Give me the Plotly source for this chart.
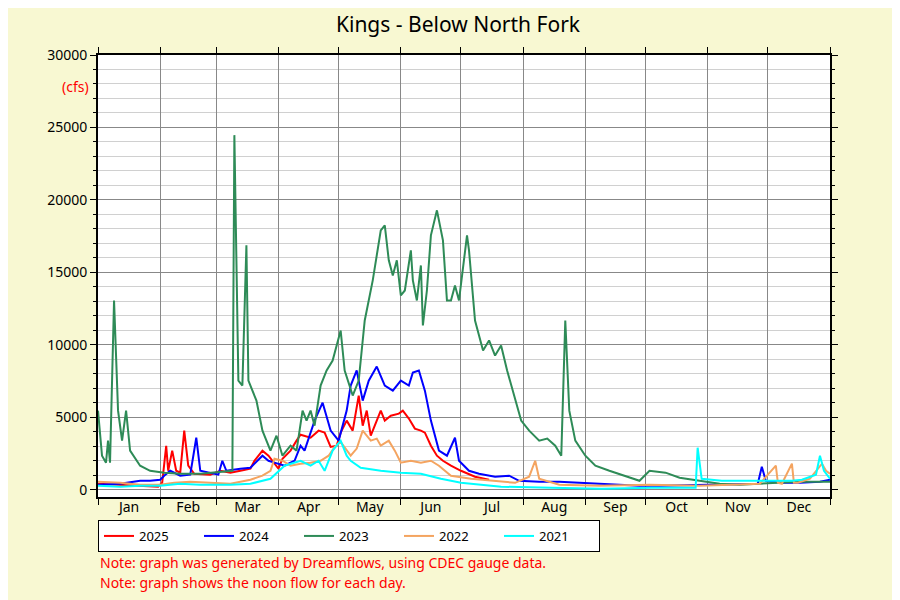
import plotly.graph_objects as go

# day of year / flow (cfs)
days_2025 = [0, 11, 21, 30, 32, 34, 35, 37, 39, 41, 43, 45, 48, 56, 61, 66, 71, 76, 78, 82, 85, 87, 90, 92, 96, 99,
             101, 106, 110, 113, 116, 119, 121, 124, 127, 130, 132, 134, 136, 138, 141, 143, 146, 150, 152, 155,
             158, 161, 163, 166, 169, 172, 176, 181, 188, 195]
flow_2025 = [410, 350, 280, 210, 480, 3030, 1310, 2700, 1310, 1180, 4080, 1660, 1100, 1040, 1310, 1180, 1310, 1450,
             2000, 2700, 2350, 2000, 1450, 2140, 2700, 3390, 3800, 3590, 4080, 3940, 2960, 3040, 3940, 4770, 4080,
             6500, 4420, 5460, 3730, 4420, 5460, 4770, 5110, 5250, 5460, 4910, 4220, 4080, 3940, 3040, 2350, 2000,
             1660, 1310, 900, 690]

days_2024 = [0, 11, 21, 26, 31, 33, 36, 41, 46, 49, 51, 56, 60, 62, 64, 71, 76, 82, 85, 88, 93, 98, 101, 103, 108,
             112, 114, 116, 120, 124, 126, 129, 132, 135, 139, 143, 147, 151, 155, 157, 160, 163, 166, 170, 174, 178,
             180, 185, 190, 198, 205, 210, 220, 230, 240, 250, 260, 270, 280, 300, 310, 320, 329, 331, 333, 340, 350,
             360, 365]
flow_2024 = [350, 410, 620, 620, 690, 970, 1310, 970, 1040, 3590, 1310, 1180, 1040, 2000, 1310, 1450, 1520, 2350,
             2000, 1870, 1660, 2000, 3040, 2700, 4770, 6010, 5110, 4080, 3390, 5460, 7190, 8230, 6150, 7530, 8500,
             7190, 6840, 7530, 7190, 8090, 8230, 6840, 4770, 2700, 2350, 3590, 2000, 1310, 1100, 900, 970, 620, 550,
             550, 480, 410, 350, 280, 280, 350, 350, 410, 410, 1590, 620, 480, 480, 550, 690]

days_2023 = [0, 2, 4, 5, 6, 8, 10, 12, 14, 16, 21, 26, 33, 41, 51, 58, 67, 68, 70, 72, 74, 75, 77, 79, 82, 86, 89,
             92, 96, 99, 102, 104, 106, 108, 111, 114, 117, 121, 123, 127, 130, 133, 137, 141, 143, 145, 147, 149,
             151, 153, 156, 157, 159, 161, 162, 164, 166, 169, 172, 174, 176, 178, 180, 182, 184, 185, 188, 192, 195,
             198, 201, 204, 208, 211, 215, 220, 224, 228, 231, 233, 235, 238, 243, 248, 255, 263, 270, 275, 283, 290,
             300, 310, 320, 330, 350, 365]
flow_2023 = [5460, 2350, 1870, 3390, 1870, 13060, 5460, 3390, 5460, 2700, 1660, 1310, 1180, 1100, 1100, 1180, 1310,
             24470, 7530, 7190, 16870, 7530, 6840, 6150, 4080, 2700, 3730, 2350, 3040, 2700, 5460, 4770, 5460, 4420,
             7190, 8230, 8920, 10990, 8230, 6500, 7530, 11680, 14450, 17900, 18250, 15830, 14790, 15830, 13410,
             13750, 16520, 14450, 13060, 15480, 11340, 13750, 17560, 19280, 17210, 13060, 13060, 14100, 13060, 15140,
             17560, 16520, 11680, 9610, 10300, 9260, 9950, 8230, 6150, 4770, 4080, 3390, 3530, 3040, 2350, 11680,
             5460, 3390, 2350, 1660, 1310, 970, 620, 1310, 1180, 830, 620, 410, 350, 410, 550, 550]

days_2022 = [0, 11, 21, 31, 38, 46, 56, 66, 76, 82, 86, 88, 92, 96, 101, 106, 111, 115, 118, 121, 126, 129, 132,
             136, 139, 141, 145, 148, 151, 156, 161, 166, 170, 176, 186, 196, 208, 215, 218, 220, 230, 250, 275, 300,
             330, 338, 339, 341, 346, 347, 349, 355, 361, 363, 365]
flow_2022 = [550, 480, 350, 350, 480, 550, 480, 410, 690, 970, 1310, 2140, 2000, 1660, 1800, 1870, 2000, 2350, 2960,
             3300, 2350, 2840, 4080, 3390, 3530, 3040, 3390, 2700, 1870, 2000, 1870, 2000, 1660, 970, 760, 620, 480,
             900, 2000, 760, 350, 280, 350, 280, 410, 1660, 480, 410, 1800, 480, 480, 760, 1800, 1310, 1100]

days_2021 = [0, 11, 21, 31, 41, 51, 66, 76, 86, 93, 101, 106, 110, 113, 117, 121, 124, 126, 131, 141, 151, 161, 171,
             181, 191, 201, 226, 251, 276, 298, 299, 301, 311, 331, 346, 351, 358, 360, 362, 365]
flow_2021 = [280, 210, 280, 280, 410, 350, 350, 410, 760, 1660, 2000, 1660, 2000, 1310, 2700, 3390, 2350, 2000,
             1520, 1310, 1180, 1100, 760, 480, 350, 210, 140, 70, 140, 140, 2900, 760, 620, 620, 620, 690, 1040,
             2350, 1310, 760]

month_starts = [0, 31, 59, 90, 120, 151, 181, 212, 243, 273, 304, 334, 365]
month_names = ["Jan", "Feb", "Mar", "Apr", "May", "Jun", "Jul", "Aug", "Sep", "Oct", "Nov", "Dec"]
month_mids = [(a + b) / 2 for a, b in zip(month_starts[:-1], month_starts[1:])]

series = [("2025", days_2025, flow_2025, "#ff0000"),
          ("2024", days_2024, flow_2024, "#0000ff"),
          ("2023", days_2023, flow_2023, "#2e8b57"),
          ("2022", days_2022, flow_2022, "#f4a460"),
          ("2021", days_2021, flow_2021, "#00ffff")]

fig = go.Figure()
for name, x, y, color in series:
    fig.add_trace(go.Scatter(x=x, y=y, name=name, mode="lines",
                             line=dict(color=color, width=2)))
# invisible trace to carry the month-label axis
fig.add_trace(go.Scatter(x=[0, 365], y=[0, 0], xaxis="x2", mode="lines",
                         line=dict(width=0), showlegend=False, hoverinfo="skip"))

# page body adds an 8px offset, so margins are shifted accordingly
fig.update_layout(
    width=900, height=600,
    paper_bgcolor="#f8f8d2", plot_bgcolor="white",
    font=dict(family="Noto Sans", size=14, color="black"),
    title=dict(text="Kings - Below North Fork", x=0.5, y=0.972, xanchor="center", yanchor="middle",
               font=dict(size=21)),
    margin=dict(l=90, r=78, t=47, b=111, autoexpand=False),
    xaxis=dict(range=[0, 365], tickvals=month_starts, showticklabels=False,
               showgrid=True, gridcolor="#888888", gridwidth=1,
               ticks="outside", ticklen=6, tickcolor="black",
               showline=True, linecolor="black", linewidth=2, mirror="ticks", zeroline=False),
    xaxis2=dict(range=[0, 365], overlaying="x", anchor="y", side="bottom",
                tickvals=month_mids, ticktext=month_names, ticks="", showgrid=False,
                zeroline=False, showline=False),
    yaxis=dict(range=[-500, 30000], tickvals=[0, 5000, 10000, 15000, 20000, 25000, 30000],
               tickformat="d",
               showgrid=True, gridcolor="#888888", gridwidth=1,
               ticks="outside", ticklen=6, tickcolor="black",
               minor=dict(dtick=1000, tick0=0, showgrid=True, gridcolor="#d0d0d0",
                          ticks="outside", ticklen=3, tickcolor="black"),
               showline=True, linecolor="black", linewidth=2, mirror="ticks", zeroline=False),
    legend=dict(orientation="h", x=0, y=-0.052, xanchor="left", yanchor="top",
                bgcolor="white", bordercolor="black", borderwidth=1,
                entrywidth=55, font=dict(size=13)),
    showlegend=True,
)

fig.add_annotation(text="(cfs)", xref="paper", yref="paper", x=-0.01, y=0.955,
                   xanchor="right", showarrow=False, font=dict(color="red", size=14))
fig.add_annotation(text="Note: graph was generated by Dreamflows, using CDEC gauge data.",
                   xref="paper", yref="paper", x=0, y=-0.149, xanchor="left", yanchor="middle",
                   showarrow=False, font=dict(color="red", size=14))
fig.add_annotation(text="Note: graph shows the noon flow for each day.",
                   xref="paper", yref="paper", x=0, y=-0.194, xanchor="left", yanchor="middle",
                   showarrow=False, font=dict(color="red", size=14))

fig.write_html("out.html")
